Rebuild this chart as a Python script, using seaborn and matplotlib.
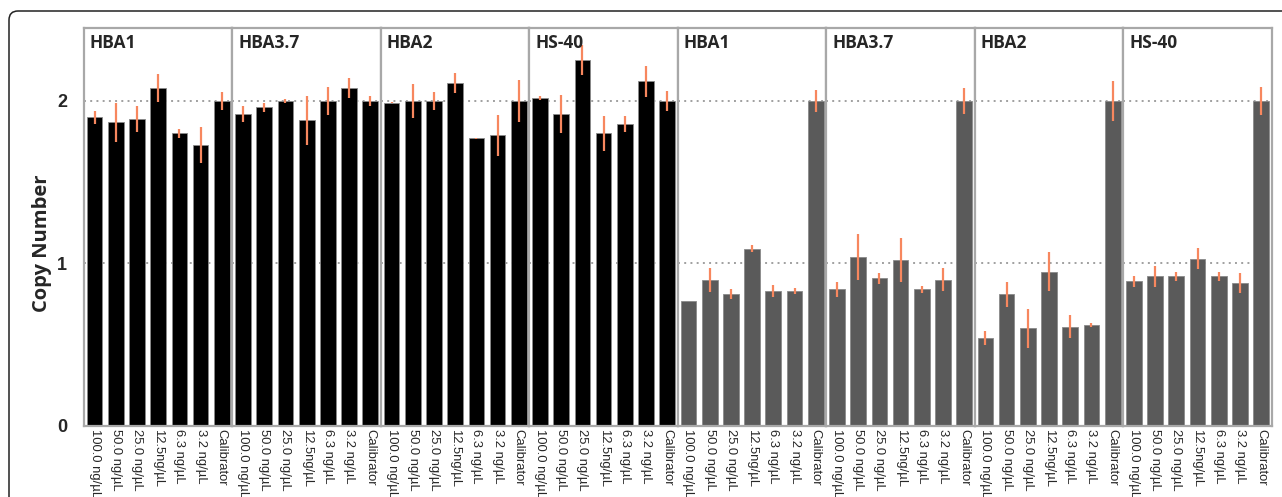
import matplotlib.pyplot as plt
import pandas as pd
import seaborn as sns
from matplotlib.patches import FancyBboxPatch
from matplotlib.transforms import IdentityTransform

# Categories
doses = ['100.0 ng/µL', '50.0 ng/µL', '25.0 ng/µL', '12.5ng/µL',
         '6.3 ng/µL', '3.2 ng/µL', 'Calibrator']
panel_titles = ['HBA1', 'HBA3.7', 'HBA2', 'HS-40',
                'HBA1', 'HBA3.7', 'HBA2', 'HS-40']

# Copy number values (black = first four, grey = last four)
cn_hba1_a = [1.90, 1.87, 1.89, 2.08, 1.80, 1.73, 2.00]
cn_hba37_a = [1.92, 1.96, 2.00, 1.88, 2.00, 2.08, 2.00]
cn_hba2_a = [1.99, 2.00, 2.00, 2.11, 1.77, 1.79, 2.00]
cn_hs40_a = [2.02, 1.92, 2.25, 1.80, 1.86, 2.12, 2.00]
cn_hba1_b = [0.77, 0.90, 0.81, 1.09, 0.83, 0.83, 2.00]
cn_hba37_b = [0.84, 1.04, 0.91, 1.02, 0.84, 0.90, 2.00]
cn_hba2_b = [0.54, 0.81, 0.60, 0.95, 0.61, 0.62, 2.00]
cn_hs40_b = [0.89, 0.92, 0.92, 1.03, 0.92, 0.88, 2.00]

# Error bar half-lengths
err_hba1_a = [0.04, 0.12, 0.08, 0.085, 0.03, 0.11, 0.053]
err_hba37_a = [0.05, 0.03, 0.015, 0.15, 0.087, 0.06, 0.03]
err_hba2_a = [0.005, 0.107, 0.056, 0.06, 0.003, 0.126, 0.127]
err_hs40_a = [0.013, 0.118, 0.092, 0.11, 0.05, 0.094, 0.06]
err_hba1_b = [0.0, 0.075, 0.03, 0.022, 0.038, 0.02, 0.07]
err_hba37_b = [0.045, 0.14, 0.034, 0.135, 0.02, 0.072, 0.079]
err_hba2_b = [0.043, 0.077, 0.12, 0.118, 0.07, 0.013, 0.125]
err_hs40_b = [0.035, 0.065, 0.03, 0.065, 0.026, 0.06, 0.088]

values = [cn_hba1_a, cn_hba37_a, cn_hba2_a, cn_hs40_a,
          cn_hba1_b, cn_hba37_b, cn_hba2_b, cn_hs40_b]
errors = [err_hba1_a, err_hba37_a, err_hba2_a, err_hs40_a,
          err_hba1_b, err_hba37_b, err_hba2_b, err_hs40_b]
bar_colors = ['#000000'] * 4 + ['#5a5a5a'] * 4

sns.set_style('white')
plt.rcParams['font.family'] = ['Open Sans', 'DejaVu Sans']

fig, axes = plt.subplots(1, 8, figsize=(12.82, 4.97), dpi=100, sharey=True)
fig.subplots_adjust(left=0.0655, right=0.992, top=0.944, bottom=0.143, wspace=0)

# outer rounded frame (pixel coords), running off the right and bottom edges
frame = FancyBboxPatch((9, -100), 1400, 497 - 11 + 100,
                       boxstyle='round,pad=0,rounding_size=9',
                       transform=IdentityTransform(), fill=False,
                       edgecolor='#222222', linewidth=1.1)
fig.patches.append(frame)

for i, ax in enumerate(axes):
    df = pd.DataFrame({'dose': doses, 'cn': values[i]})
    sns.barplot(data=df, x='dose', y='cn', order=doses, ax=ax,
                color=bar_colors[i], saturation=1, width=0.74,
                edgecolor='#8a8a8a', linewidth=0.6, errorbar=None, zorder=2)
    ax.errorbar(range(len(doses)), df['cn'], yerr=errors[i], fmt='none',
                ecolor='#f7875e', elinewidth=1.6, capsize=0, zorder=3)
    for g in (1, 2):
        ax.axhline(g, color='#a0a0a0', linestyle=(0, (1, 2.2)),
                   linewidth=1.4, zorder=1)
    ax.set_xlim(-0.5, 6.5)
    ax.set_ylim(0, 2.45)
    ax.set_xlabel('')
    ax.set_ylabel('')
    for s in ax.spines.values():
        s.set_color('#a8a8a8')
        s.set_linewidth(1.6)
    ax.tick_params(axis='both', length=0)
    ax.tick_params(axis='x', pad=2)
    ax.set_xticks(range(len(doses)))
    ax.set_xticklabels(doses, rotation=270, ha='center', va='top',
                       fontsize=9.4, family='Liberation Sans')
    ax.text(0.04, 0.985, panel_titles[i], transform=ax.transAxes,
            ha='left', va='top', fontsize=12.5, fontweight='bold')

axes[0].set_yticks([0, 1, 2])
axes[0].set_yticklabels(['0', '1', '2'], fontsize=13, fontweight='bold',
                        family='Liberation Sans')
axes[0].tick_params(axis='y', pad=12)
axes[0].set_ylabel('Copy Number', fontsize=14.5, fontweight='bold')
axes[0].yaxis.set_label_coords(-0.215, 0.46)

fig.savefig('out.png', dpi=100)
